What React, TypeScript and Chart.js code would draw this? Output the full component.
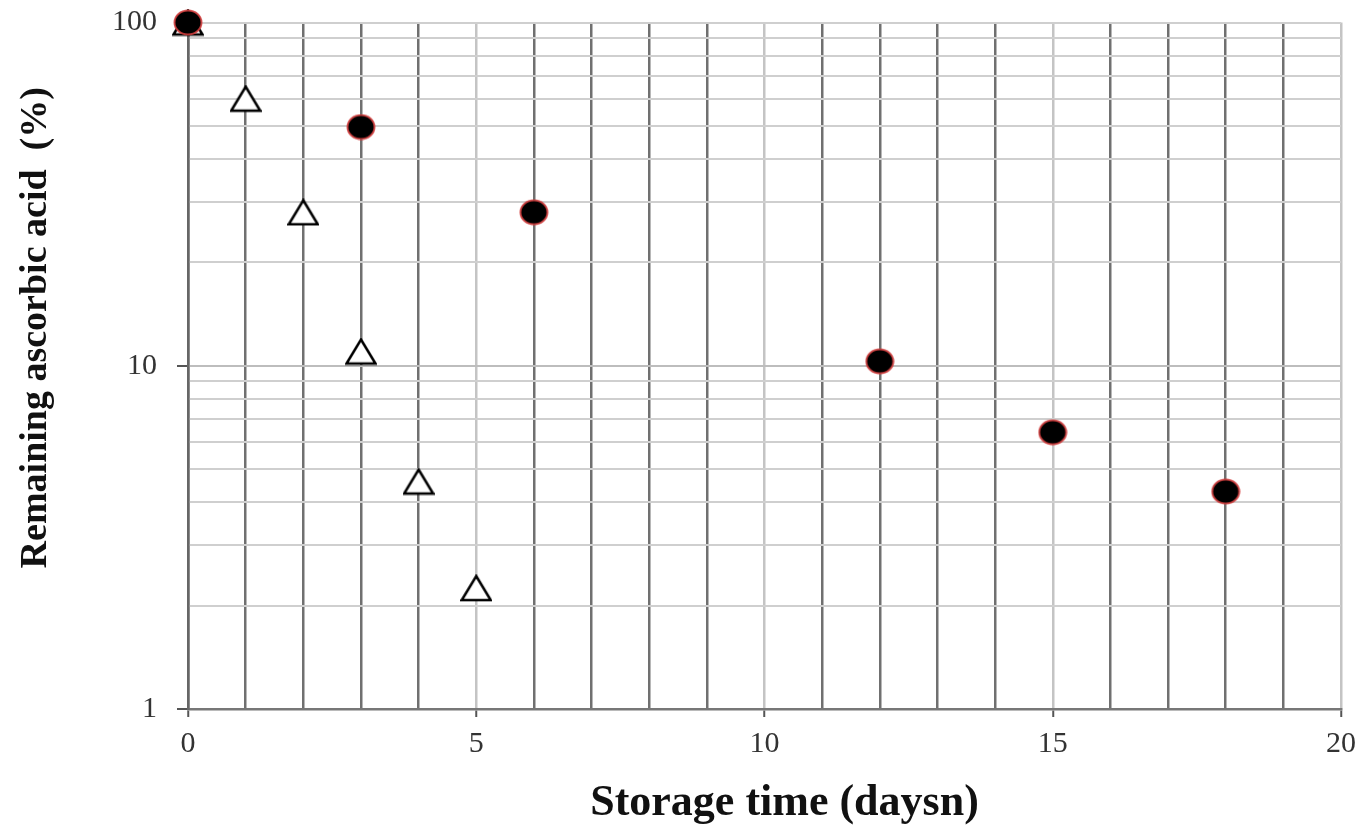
import React, { useEffect, useRef } from "react";
import { Chart, registerables } from "chart.js";

Chart.register(...registerables);

const xTriangle = [0, 1, 2, 3, 4, 5];
const yTriangle = [100, 60, 28, 11, 4.6, 2.25];
const xCircle = [0, 3, 6, 12, 15, 18];
const yCircle = [100, 49.6, 28, 10.3, 6.4, 4.3];
const xMin = 0;
const xMax = 20;
const yMin = 1;
const yMax = 100;
const xLabelStep = 5;
const yLabels = [1, 10, 100];
const xTitle = "Storage time (daysn)";
const yTitle = "Remaining ascorbic acid  (%)";

function makeCircle(): HTMLCanvasElement {
  const c = document.createElement("canvas");
  c.width = 30;
  c.height = 27;
  const ctx = c.getContext("2d")!;
  ctx.beginPath();
  ctx.ellipse(15, 13.5, 13.5, 12, 0, 0, Math.PI * 2);
  ctx.fillStyle = "#000";
  ctx.fill();
  ctx.lineWidth = 2;
  ctx.strokeStyle = "rgba(210,60,60,0.85)";
  ctx.stroke();
  return c;
}

function makeTriangle(): HTMLCanvasElement {
  const c = document.createElement("canvas");
  c.width = 32;
  c.height = 28;
  const ctx = c.getContext("2d")!;
  ctx.beginPath();
  ctx.moveTo(16, 2);
  ctx.lineTo(30.5, 26);
  ctx.lineTo(1.5, 26);
  ctx.closePath();
  ctx.fillStyle = "#fff";
  ctx.fill();
  ctx.lineWidth = 2.5;
  ctx.lineJoin = "miter";
  ctx.strokeStyle = "#000";
  ctx.stroke();
  return c;
}

const titlePlugin = {
  id: "customTitles",
  afterDraw(chart: any) {
    const { ctx, chartArea } = chart;
    ctx.save();
    ctx.fillStyle = "#111";
    ctx.font = "bold 44px 'Liberation Serif', 'Times New Roman', serif";
    ctx.textAlign = "center";
    ctx.textBaseline = "middle";
    ctx.fillText(xTitle, (chartArea.left + chartArea.right) / 2 + 20, 804);
    ctx.translate(36, (chartArea.top + chartArea.bottom) / 2 - 38);
    ctx.rotate(-Math.PI / 2);
    ctx.font = "bold 38px 'Liberation Serif', 'Times New Roman', serif";
    ctx.fillText(yTitle, 0, 0);
    ctx.restore();
  },
};

export default function App() {
  const ref = useRef<HTMLCanvasElement>(null);
  useEffect(() => {
    document.body.style.margin = "0";
    const circle = makeCircle();
    const tri = makeTriangle();
    const chart = new Chart(ref.current!, {
      type: "scatter",
      data: {
        datasets: [
          {
            label: "circle",
            data: xCircle.map((x, i) => ({ x, y: yCircle[i] })),
            pointStyle: circle as any,
            pointRadius: 13,
            clip: false as any,
          },
          {
            label: "triangle",
            data: xTriangle.map((x, i) => ({ x, y: yTriangle[i] })),
            pointStyle: tri as any,
            pointRadius: 14,
            clip: false as any,
          },
        ],
      },
      options: {
        animation: false,
        responsive: false,
        maintainAspectRatio: false,
        layout: { padding: { left: 0, right: 18, top: 22.5, bottom: 0 } },
        plugins: {
          legend: { display: false },
          tooltip: { enabled: false },
        },
        scales: {
          x: {
            type: "linear",
            min: xMin,
            max: xMax,
            afterFit(scale: any) {
              scale.height = 119;
              scale.paddingLeft = 0;
              scale.paddingRight = 0;
            },
            ticks: {
              stepSize: 1,
              autoSkip: false,
              maxRotation: 0,
              padding: 9,
              color: "#333",
              font: { family: "'Liberation Serif', serif", size: 30 },
              callback: (v: any) => (Number(v) % xLabelStep === 0 ? String(v) : ""),
            },
            grid: {
              drawOnChartArea: true,
              tickLength: 8,
              lineWidth: 2.5,
              color: (ctx: any) => {
                const v = ctx.tick ? ctx.tick.value : 0;
                if (v === 0) return "#666";
                return v % xLabelStep === 0 ? "#c4c4c4" : "#707070";
              },
              tickColor: (ctx: any) => {
                const v = ctx.tick ? ctx.tick.value : 1;
                return v % xLabelStep === 0 ? "#555" : "rgba(0,0,0,0)";
              },
              tickWidth: 2,
            },
            border: { display: true, color: "#777", width: 2.5 },
          },
          y: {
            type: "logarithmic",
            min: yMin,
            max: yMax,
            afterFit(scale: any) {
              scale.width = 188;
              scale.paddingTop = 0;
              scale.paddingBottom = 0;
            },
            afterBuildTicks(scale: any) {
              const t: any[] = [];
              for (let d = 1; d <= 10; d *= 10) {
                for (let k = 1; k < 10; k++) t.push({ value: d * k });
              }
              t.push({ value: 100 });
              scale.ticks = t;
            },
            ticks: {
              autoSkip: false,
              padding: 20,
              color: "#333",
              font: { family: "'Liberation Serif', serif", size: 30 },
              callback: (v: any) => (yLabels.includes(Number(v)) ? String(v) : ""),
            },
            grid: {
              tickLength: 11,
              lineWidth: 2,
              color: (ctx: any) => {
                const v = ctx.tick ? ctx.tick.value : 0;
                if (v === 10) return "#bdbdbd";
                return "#cfcfcf";
              },
              tickColor: (ctx: any) => {
                const v = ctx.tick ? ctx.tick.value : 0;
                return yLabels.includes(v) ? "#555" : "rgba(0,0,0,0)";
              },
              tickWidth: 2,
            },
            border: { display: true, color: "#666", width: 2.5 },
          },
        },
      },
      plugins: [titlePlugin],
    });
    return () => chart.destroy();
  }, []);
  return (
    <div style={{ position: "absolute", left: 0, top: 0, width: 1359, height: 828, background: "#fff" }}>
      <canvas ref={ref} width={1359} height={828} />
    </div>
  );
}
